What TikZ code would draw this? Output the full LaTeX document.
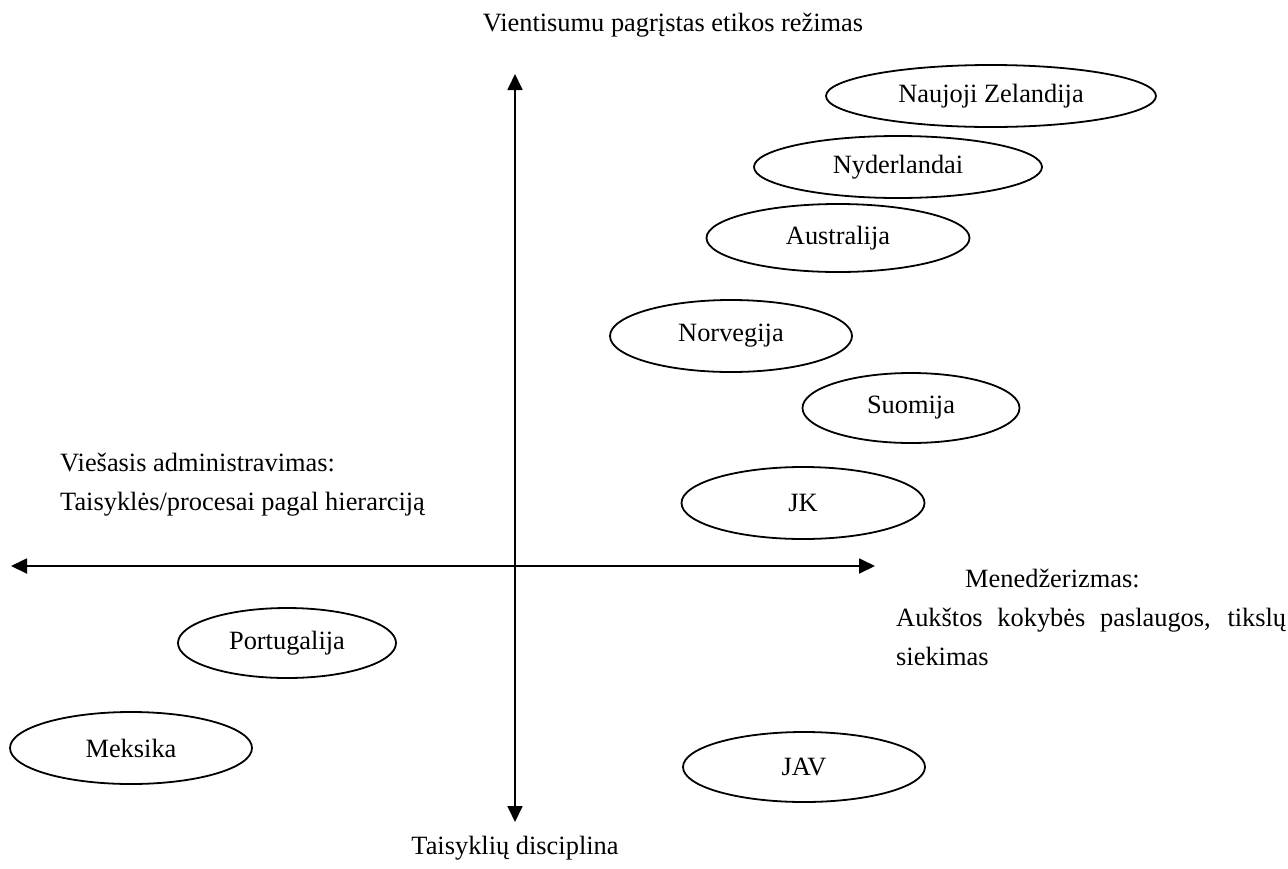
\documentclass[tikz,border=0pt]{standalone}
\usepackage{fontspec}
\setmainfont{Liberation Serif}
\usetikzlibrary{shapes.geometric,arrows.meta}
\begin{document}
\begin{tikzpicture}[x=1pt,y=-1pt,
  lbl/.style={font=\fontsize{26.4}{30}\selectfont, inner sep=0pt},
  country/.style={ellipse, draw, line width=1.8pt, inner sep=0pt,
    font=\fontsize{26.4}{30}\selectfont},
  axis/.style={line width=1.8pt, {Triangle[length=16pt,width=15pt]}-{Triangle[length=16pt,width=15pt]}}]
\useasboundingbox (0,0) rectangle (1288,868);

% axes
\coordinate (top) at (515,74);
\coordinate (bottom) at (515,822);
\coordinate (left) at (11,566);
\coordinate (right) at (875,566);
\draw[axis] (bottom) -- (top);
\draw[axis] (left) -- (right);

% axis labels
\node[lbl, anchor=base] (tlabel) at (673,31) {Vientisumu pagrįstas etikos režimas};
\node[lbl, anchor=base] (blabel) at (515,854) {Taisyklių disciplina};
\node[lbl, anchor=base west] (l1) at (60,471) {Viešasis administravimas:};
\node[lbl, anchor=base west] (l2) at (60,510) {Taisyklės/procesai pagal hierarciją};
\node[lbl, anchor=base west] (r1) at (965,587) {Menedžerizmas:};
\node[lbl, anchor=base west] (r2) at (896,626) {\makebox[390pt][s]{Aukštos kokybės paslaugos, tikslų}};
\node[lbl, anchor=base west] (r3) at (896,665) {siekimas};

% countries
\node[country, minimum width=330pt, minimum height=62pt] (nz) at (991,96) {Naujoji Zelandija};
\node[country, minimum width=288pt, minimum height=62pt] (nl) at (898,167) {Nyderlandai};
\node[country, minimum width=263pt, minimum height=68pt] (au) at (838,238) {Australija};
\node[country, minimum width=242pt, minimum height=72pt] (no) at (731,336) {Norvegija};
\node[country, minimum width=217pt, minimum height=70pt] (fi) at (911,408) {Suomija};
\node[country, minimum width=243pt, minimum height=72pt] (uk) at (803,503) {JK};
\node[country, minimum width=218pt, minimum height=70pt] (pt) at (287,643) {Portugalija};
\node[country, minimum width=242pt, minimum height=72pt] (mx) at (131,748) {Meksika};
\node[country, minimum width=242pt, minimum height=70pt] (us) at (804,767) {JAV};
\end{tikzpicture}
\end{document}
